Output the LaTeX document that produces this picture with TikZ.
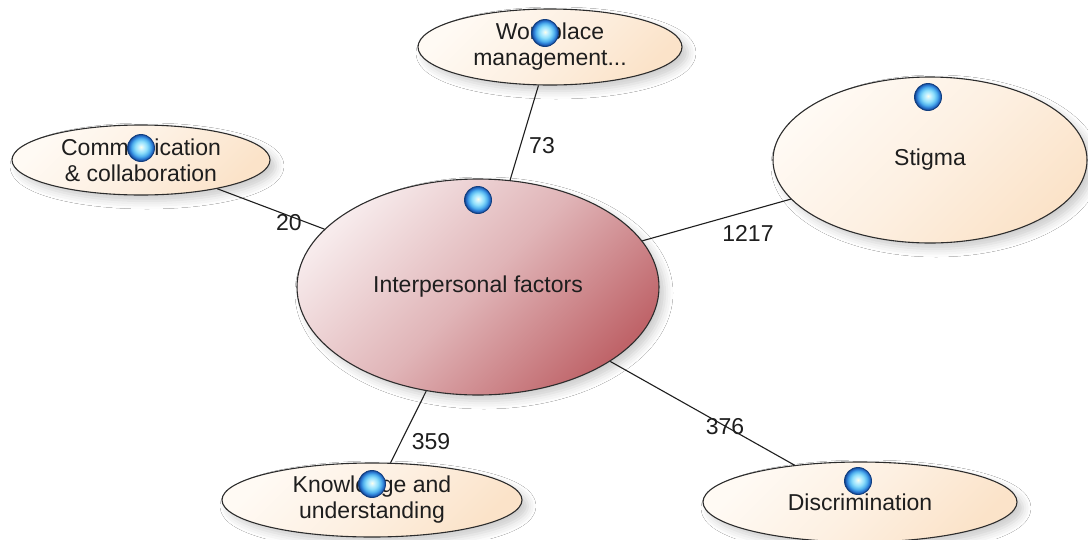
\documentclass[tikz,border=0pt]{standalone}
\usepackage{fontspec}
\setmainfont{Liberation Sans}
\usetikzlibrary{shapes.geometric,shadows.blur}

\definecolor{inkgray}{HTML}{1E1E1E}
\definecolor{rimgray}{HTML}{2C2C2C}
\definecolor{peachlight}{HTML}{FFFAF4}
\definecolor{peachmid}{HTML}{FDF0E2}
\definecolor{peachdark}{HTML}{FBE3C9}
\definecolor{roselight}{HTML}{F7EBEC}
\definecolor{rosemid}{HTML}{E0B4B7}
\definecolor{rosedark}{HTML}{BF6469}
\definecolor{orbhi}{HTML}{FCFEEA}
\definecolor{orbpale}{HTML}{CFF4FF}
\definecolor{orbcyan}{HTML}{8DDEFB}
\definecolor{orbsky}{HTML}{4FB0EE}
\definecolor{orbblue}{HTML}{2A79D2}
\definecolor{orbedge}{HTML}{1A52A6}
\definecolor{orbrim}{HTML}{123F80}

% glossy marker ball (the path's box spans about +-25bp of the shading)
\pgfdeclareradialshading{orb}{\pgfpoint{0bp}{2bp}}{%
  color(0bp)=(orbhi); color(4bp)=(orbpale); color(11bp)=(orbcyan);
  color(17bp)=(orbsky); color(21bp)=(orbblue); color(24bp)=(orbedge);
  color(25bp)=(orbrim); color(50bp)=(orbrim)}

\tikzset{
  labelfont/.style={font=\fontsize{23}{26}\selectfont, text=inkgray},
  topic/.style={ellipse, draw=rimgray, line width=1.1pt, inner sep=0pt,
    align=center, labelfont,
    top color=peachlight, bottom color=peachdark, middle color=peachmid,
    shading angle=45,
    blur shadow={shadow xshift=6pt, shadow yshift=-6pt,
      shadow blur radius=8pt, shadow opacity=20}},
  hub/.style={topic, top color=roselight, bottom color=rosedark,
    middle color=rosemid, shading angle=45},
  link/.style={draw=inkgray, line width=1.1pt},
  weight/.style={labelfont, inner sep=0pt},
  marker/.style={circle, minimum size=27pt, inner sep=0pt, shade, shading=orb,
    draw=orbrim, line width=0.9pt}
}

\begin{document}
\begin{tikzpicture}[x=1pt, y=-1pt]
  \clip (0,0) rectangle (1088,539);
  \fill[white] (0,0) rectangle (1088,539);

  % topic ellipses
  \node[hub,   minimum width=362pt, minimum height=216pt] (ip)  at (478,287) {Interpersonal factors};
  \node[topic, minimum width=264pt, minimum height=76pt]  (wp)  at (550,47)  {Workplace\\management...};
  \node[topic, minimum width=258pt, minimum height=70pt]  (cc)  at (141,160) {Communication\\\& collaboration};
  \node[topic, minimum width=314pt, minimum height=166pt] (st)  at (930,160) {Stigma};
  \node[topic, minimum width=300pt, minimum height=74pt]  (ku)  at (372,500) {Knowledge and\\understanding};
  \node[topic, minimum width=314pt, minimum height=80pt]  (dis) at (860,502) {Discrimination};

  % connectors
  \draw[link] (ip) -- (wp);
  \draw[link] (ip) -- (cc);
  \draw[link] (ip) -- (st);
  \draw[link] (ip) -- (ku);
  \draw[link] (ip) -- (dis);

  % connector weights
  \node[weight] (w-wp)  at (542,146) {73};
  \node[weight] (w-cc)  at (289,223) {20};
  \node[weight] (w-st)  at (748,233) {1217};
  \node[weight] (w-ku)  at (431,442) {359};
  \node[weight] (w-dis) at (725,427) {376};

  % marker balls
  \node[marker] (m-ip)  at (478,200) {};
  \node[marker] (m-wp)  at (545,33)  {};
  \node[marker] (m-cc)  at (141,148) {};
  \node[marker] (m-st)  at (928,97)  {};
  \node[marker] (m-ku)  at (372,484) {};
  \node[marker] (m-dis) at (858,481) {};
\end{tikzpicture}
\end{document}
